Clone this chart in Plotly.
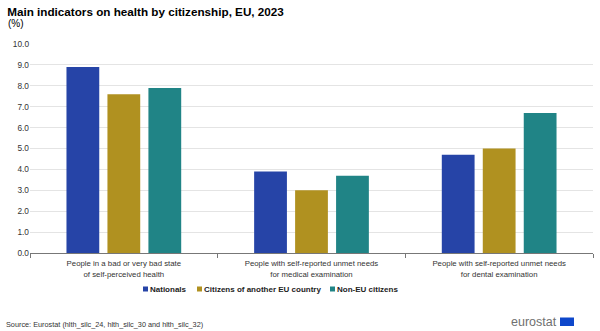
import plotly.graph_objects as go

categories = [
    "People in a bad or very bad state<br>of self-perceived health",
    "People with self-reported unmet needs<br>for medical examination",
    "People with self-reported unmet needs<br>for dental examination",
]
series_names = ["Nationals", "Citizens of another EU country", "Non-EU citizens"]
nationals = [8.9, 3.9, 4.7]
other_eu = [7.6, 3.0, 5.0]
non_eu = [7.9, 3.7, 6.7]
colors = ["#2644A7", "#B09120", "#208486"]
y_ticks = [0, 1, 2, 3, 4, 5, 6, 7, 8, 9, 10]

# pixel -> paper helpers (plot area: x 30..593, y 44..253)
L, R, T, B = 30, 7, 44, 78
W, H = 600, 331
PW, PH = W - L - R, H - T - B
px = lambda x: (x - L) / PW
py = lambda y: (H - B - y) / PH

fig = go.Figure()
for name, vals, col in zip(series_names, [nationals, other_eu, non_eu], colors):
    fig.add_trace(go.Bar(x=categories, y=vals, name=name, marker=dict(color=col, line=dict(width=0)),
                         showlegend=False, hoverinfo="y"))

fig.update_layout(
    width=W, height=H,
    margin=dict(l=L, r=R, t=T, b=B),
    paper_bgcolor="white", plot_bgcolor="white",
    barmode="group", bargap=0.345, bargroupgap=0.2,
    font=dict(family="Liberation Sans, Arial, sans-serif", size=9, color="#333333"),
    title=dict(text="<b>Main indicators on health by citizenship, EU, 2023</b>",
               x=0.012, xanchor="left", y=0.963, yanchor="middle",
               font=dict(size=11.7, color="#000000")),
    showlegend=False,
)
fig.update_yaxes(range=[0, 10], tickvals=y_ticks, ticktext=[f"{v:.1f}" for v in y_ticks],
                 showgrid=True, gridcolor="#e4e4e4", gridwidth=1, zeroline=False,
                 showline=False, ticks="", tickfont=dict(size=8.3, color="#333333"), fixedrange=True)
fig.update_xaxes(showline=True, linecolor="#777777", linewidth=1, ticks="outside",
                 tickson="boundaries", ticklen=4, tickcolor="#777777", ticklabelstandoff=3,
                 tickfont=dict(size=7.8, color="#333333"), fixedrange=True)

# legend built from shapes + text
legend_marker_x = [143, 197, 330]
for name, col, mx in zip(series_names, colors, legend_marker_x):
    fig.add_shape(type="rect", xref="paper", yref="paper", x0=px(mx), x1=px(mx + 5),
                  y0=py(291.5), y1=py(286.5), fillcolor=col, line=dict(width=0))
    fig.add_annotation(text="<b>" + name + "</b>", xref="paper", yref="paper", x=px(mx + 5), y=py(289),
                       xanchor="left", yanchor="middle", showarrow=False,
                       font=dict(size=8, color="#222222"))

fig.add_annotation(text="(%)", xref="paper", yref="paper", x=px(6), y=py(24),
                   xanchor="left", yanchor="middle", showarrow=False,
                   font=dict(size=10, color="#000000"))
fig.add_annotation(text="Source: Eurostat (hlth_silc_24, hlth_silc_30 and hlth_silc_32)",
                   xref="paper", yref="paper", x=px(4), y=py(324), xanchor="left", yanchor="middle",
                   showarrow=False, font=dict(size=7.3, color="#333333"))
fig.add_annotation(text="eurostat", xref="paper", yref="paper", x=px(559), y=py(321.5),
                   xanchor="right", yanchor="middle", showarrow=False,
                   font=dict(size=12.5, color="#707070"))
fig.add_shape(type="rect", xref="paper", yref="paper", x0=px(560), x1=px(574), y0=py(326), y1=py(317.5),
              fillcolor="#0E47CB", line=dict(width=0))

fig.write_html("out.html")
